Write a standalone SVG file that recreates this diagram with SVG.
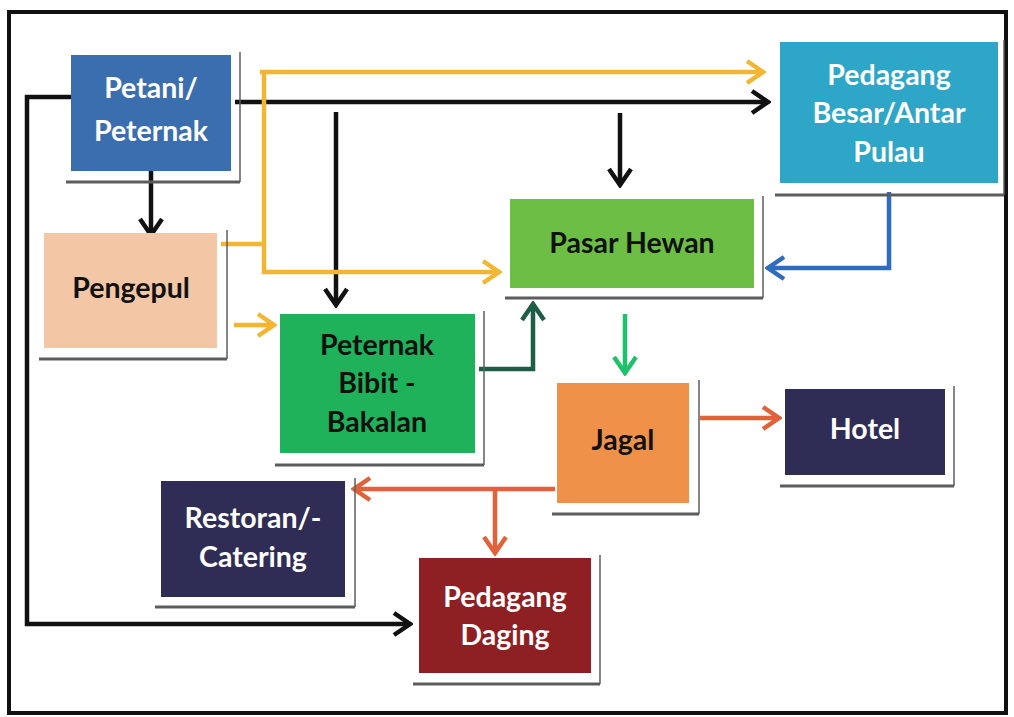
<svg xmlns="http://www.w3.org/2000/svg" width="1014" height="717" viewBox="0 0 1014 717">
<defs>
<style>
.box{stroke:none}
.sh{stroke:#5c5c5c;fill:none}
.t{font-family:Lato,"Liberation Sans",sans-serif;font-weight:bold;font-size:28.5px;text-anchor:middle}
.w{fill:#ffffff}
.k{fill:#111111}
.c{fill:none;stroke-width:4.5;stroke-linejoin:miter}
</style>
<marker id="ak" markerUnits="userSpaceOnUse" viewBox="0 0 22 26" refX="19" refY="13" markerWidth="22" markerHeight="26" orient="auto"><path d="M3,2 L19,13 L3,24" fill="none" stroke="#111" stroke-width="4.5"/></marker>
<marker id="ay" markerUnits="userSpaceOnUse" viewBox="0 0 22 26" refX="19" refY="13" markerWidth="22" markerHeight="26" orient="auto"><path d="M3,2 L19,13 L3,24" fill="none" stroke="#f2b632" stroke-width="4.5"/></marker>
<marker id="ab" markerUnits="userSpaceOnUse" viewBox="0 0 22 26" refX="19" refY="13" markerWidth="22" markerHeight="26" orient="auto"><path d="M3,2 L19,13 L3,24" fill="none" stroke="#2f6cc0" stroke-width="4.5"/></marker>
<marker id="adg" markerUnits="userSpaceOnUse" viewBox="0 0 22 26" refX="19" refY="13" markerWidth="22" markerHeight="26" orient="auto"><path d="M3,2 L19,13 L3,24" fill="none" stroke="#1d5e45" stroke-width="4.5"/></marker>
<marker id="ag" markerUnits="userSpaceOnUse" viewBox="0 0 22 26" refX="19" refY="13" markerWidth="22" markerHeight="26" orient="auto"><path d="M3,2 L19,13 L3,24" fill="none" stroke="#1ec26a" stroke-width="4.5"/></marker>
<marker id="ao" markerUnits="userSpaceOnUse" viewBox="0 0 22 26" refX="19" refY="13" markerWidth="22" markerHeight="26" orient="auto"><path d="M3,2 L19,13 L3,24" fill="none" stroke="#e0613a" stroke-width="4.5"/></marker>
</defs>
<rect x="0" y="0" width="1014" height="717" fill="#ffffff"/>
<rect x="9" y="12" width="997" height="701" fill="none" stroke="#111" stroke-width="4"/>

<g id="connectors">
<path class="c" stroke="#111" d="M71,97 H27 V624 H410" marker-end="url(#ak)"/>
<path class="c" stroke="#111" d="M235,102 H768" marker-end="url(#ak)"/>
<path class="c" stroke="#111" d="M151,164 V235" marker-end="url(#ak)"/>
<path class="c" stroke="#111" d="M336,112 V305" marker-end="url(#ak)"/>
<path class="c" stroke="#111" d="M620,113 V185" marker-end="url(#ak)"/>
<path class="c" stroke="#f2b632" d="M221,244 H264"/>
<path class="c" stroke="#f2b632" d="M260,72 H763" marker-end="url(#ay)"/>
<path class="c" stroke="#f2b632" d="M264,72 V272 H499" marker-end="url(#ay)"/>
<path class="c" stroke="#f2b632" d="M234,325 H274" marker-end="url(#ay)"/>
<path class="c" stroke="#1d5e45" d="M479,369 H533 V304" marker-end="url(#adg)"/>
<path class="c" stroke="#2f6cc0" d="M889,192 V268 H768" marker-end="url(#ab)"/>
<path class="c" stroke="#1ec26a" d="M625,314 V373" marker-end="url(#ag)"/>
<path class="c" stroke="#e0613a" d="M700,418 H779" marker-end="url(#ao)"/>
<path class="c" stroke="#e0613a" d="M555,489 H354" marker-end="url(#ao)"/>
<path class="c" stroke="#e0613a" d="M495,489 V553" marker-end="url(#ao)"/>
</g>

<g id="petani">
<path class="sh" stroke-width="3" d="M66,182 H240"/><path class="sh" stroke-width="1.5" d="M240,52 V182"/>
<rect class="box" x="71" y="55" width="160" height="116" fill="#3b6eae"/>
<text class="t w" x="151" y="98">Petani/</text>
<text class="t w" x="151" y="141">Peternak</text>
</g>

<g id="pedagang-besar">
<path class="sh" stroke-width="3" d="M775,195 H1004"/><path class="sh" stroke-width="1.5" d="M1004,40 V195"/>
<rect class="box" x="780" y="42" width="218" height="141" fill="#2ea6c7"/>
<text class="t w" x="889" y="85">Pedagang</text>
<text class="t w" x="889" y="123">Besar/Antar</text>
<text class="t w" x="889" y="162">Pulau</text>
</g>

<g id="pasar-hewan">
<path class="sh" stroke-width="3" d="M505,298 H763"/><path class="sh" stroke-width="1.5" d="M763,196 V298"/>
<rect class="box" x="510" y="199" width="244" height="89" fill="#6dbe45"/>
<text class="t k" x="632" y="253">Pasar Hewan</text>
</g>

<g id="pengepul">
<path class="sh" stroke-width="3" d="M39,359 H227"/><path class="sh" stroke-width="1.5" d="M227,230 V359"/>
<rect class="box" x="44" y="233" width="173" height="115" fill="#f3c6a5"/>
<text class="t k" x="131" y="298">Pengepul</text>
</g>

<g id="peternak-bibit">
<path class="sh" stroke-width="3" d="M275,465 H484"/><path class="sh" stroke-width="1.5" d="M484,311 V465"/>
<rect class="box" x="280" y="314" width="195" height="139" fill="#1fb25a"/>
<text class="t k" x="377" y="355">Peternak</text>
<text class="t k" x="377" y="393">Bibit -</text>
<text class="t k" x="377" y="432">Bakalan</text>
</g>

<g id="jagal">
<path class="sh" stroke-width="3" d="M552,514 H699"/><path class="sh" stroke-width="1.5" d="M699,380 V514"/>
<rect class="box" x="557" y="383" width="132" height="120" fill="#f0914a"/>
<text class="t k" x="623" y="450">Jagal</text>
</g>

<g id="hotel">
<path class="sh" stroke-width="3" d="M780,486 H954"/><path class="sh" stroke-width="1.5" d="M954,386 V486"/>
<rect class="box" x="785" y="389" width="160" height="86" fill="#2f2d55"/>
<text class="t w" x="865" y="439">Hotel</text>
</g>

<g id="restoran">
<path class="sh" stroke-width="3" d="M155,607 H355"/><path class="sh" stroke-width="1.5" d="M355,478 V607"/>
<rect class="box" x="161" y="481" width="184" height="116" fill="#2f2d55"/>
<text class="t w" x="253" y="528">Restoran/-</text>
<text class="t w" x="253" y="567">Catering</text>
</g>

<g id="pedagang-daging">
<path class="sh" stroke-width="3" d="M413,684 H600"/><path class="sh" stroke-width="1.5" d="M600,555 V684"/>
<rect class="box" x="419" y="558" width="172" height="115" fill="#8e1f23"/>
<text class="t w" x="505" y="607">Pedagang</text>
<text class="t w" x="505" y="645">Daging</text>
</g>
</svg>
